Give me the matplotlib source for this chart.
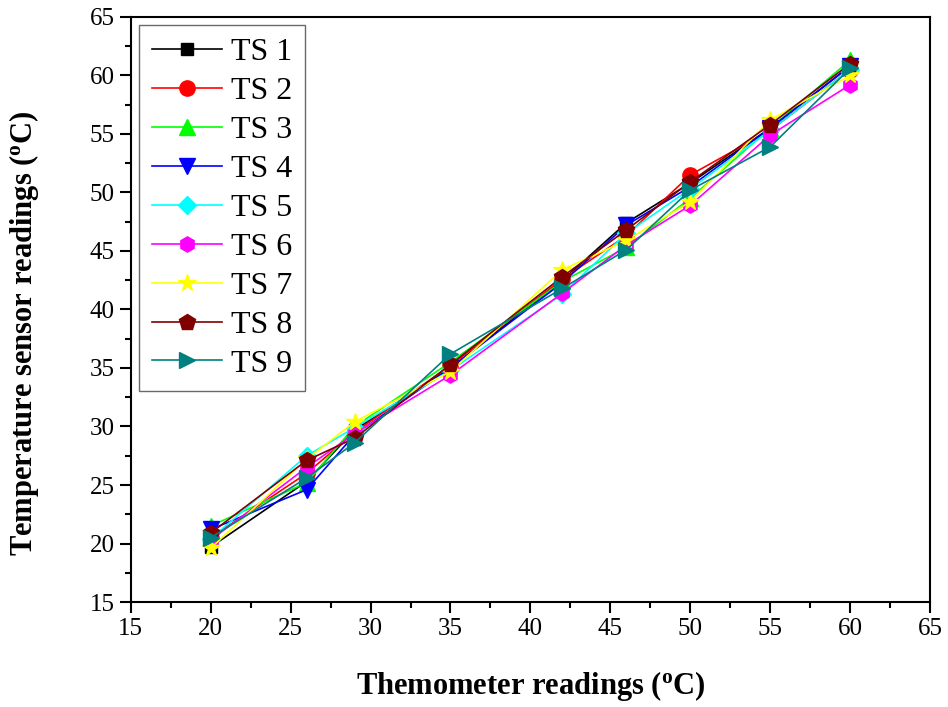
import numpy as np
import matplotlib
matplotlib.use("Agg")
from matplotlib import pyplot as plt
from matplotlib.ticker import MultipleLocator

plt.rcParams["font.family"] = ["Liberation Serif", "DejaVu Serif"]
plt.rcParams["mathtext.fontset"] = "custom"
plt.rcParams["mathtext.rm"] = "Liberation Serif"
plt.rcParams["mathtext.bf"] = "Liberation Serif:bold"

thermometer = [20, 26, 29, 35, 42, 46, 50, 55, 60]
labels = ["TS 1", "TS 2", "TS 3", "TS 4", "TS 5", "TS 6", "TS 7", "TS 8", "TS 9"]
ts1 = [19.7, 25.3, 29.7, 35.0, 42.5, 47.4, 50.8, 55.5, 60.8]
ts2 = [20.5, 26.0, 29.5, 35.2, 42.6, 46.3, 51.5, 55.3, 60.5]
ts3 = [21.5, 25.2, 30.0, 35.5, 42.4, 45.3, 49.5, 55.5, 61.3]
ts4 = [21.2, 24.6, 29.3, 35.0, 42.3, 47.2, 50.5, 55.5, 60.8]
ts5 = [20.4, 27.5, 29.9, 34.8, 41.3, 46.5, 50.3, 55.3, 60.5]
ts6 = [20.3, 26.5, 29.4, 34.4, 41.4, 45.5, 48.9, 54.9, 59.2]
ts7 = [19.6, 27.2, 30.4, 34.7, 43.4, 45.9, 49.2, 56.2, 60.0]
ts8 = [20.9, 27.1, 29.0, 35.3, 42.8, 46.8, 50.9, 55.8, 61.0]
ts9 = [20.5, 25.6, 28.6, 36.2, 41.8, 45.1, 50.2, 53.9, 60.6]
series = [ts1, ts2, ts3, ts4, ts5, ts6, ts7, ts8, ts9]

colors = ["black", "red", "#00ff00", "blue", "cyan", "magenta", "yellow", "#800000", "#008080"]
markers = ["s", "o", "^", "v", "D", "h", "*", "p", ">"]
sizes = [9, 11, 12, 12, 9, 11, 13, 12, 12]

fig = plt.figure(figsize=(9.48, 7.07), dpi=100)
ax = fig.add_axes([0.138, 0.1485, 0.843, 0.8275])

for vals, lab, c, m, s in zip(series, labels, colors, markers, sizes):
    ax.plot(thermometer, vals, color=c, marker=m, markersize=s, lw=1.2, label=lab)

ax.set_xlim(15, 65)
ax.set_ylim(15, 65)
ax.xaxis.set_major_locator(MultipleLocator(5))
ax.yaxis.set_major_locator(MultipleLocator(5))
ax.xaxis.set_minor_locator(MultipleLocator(2.5))
ax.yaxis.set_minor_locator(MultipleLocator(2.5))
ax.tick_params(which="major", direction="out", length=8, width=1.5, labelsize=18)
ax.tick_params(which="minor", direction="out", length=4, width=1.5)
for sp in ax.spines.values():
    sp.set_linewidth(1.5)

ax.set_xlabel(r"Themometer readings ($\mathregular{^o}$C)", fontsize=22, fontweight="bold")
ax.set_ylabel(r"Temperature sensor readings ($\mathregular{^o}$C)", fontsize=22, fontweight="bold")
ax.xaxis.set_label_coords(0.5, -0.115)
ax.yaxis.set_label_coords(-0.113, 0.46)

leg = ax.legend(loc="upper left", fontsize=23, frameon=True, fancybox=False,
                edgecolor="#444444", handlelength=2.2, labelspacing=0.3,
                borderpad=0.4, handletextpad=0.3, borderaxespad=0.25)
leg.get_frame().set_linewidth(1.0)

plt.savefig("out.png", dpi=100)
plt.close()
